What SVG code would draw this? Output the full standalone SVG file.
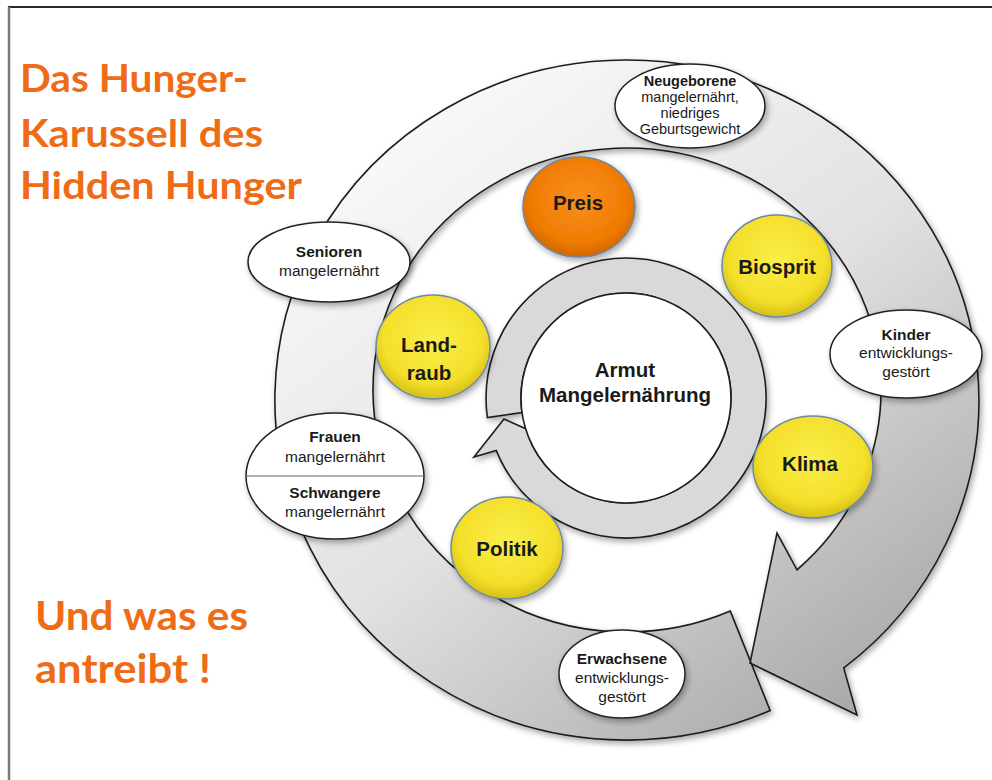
<svg xmlns="http://www.w3.org/2000/svg" width="992" height="780" viewBox="0 0 992 780">
<defs>
<linearGradient id="ringGrad" x1="0.15" y1="0.05" x2="0.85" y2="0.95">
<stop offset="0" stop-color="#fbfbfb"/>
<stop offset="0.5" stop-color="#e2e2e2"/>
<stop offset="1" stop-color="#a8a8a8"/>
</linearGradient>
<radialGradient id="yellowGrad" cx="0.5" cy="0.42" r="0.58">
<stop offset="0" stop-color="#faee4a"/>
<stop offset="0.75" stop-color="#f4df2a"/>
<stop offset="1" stop-color="#d6bf18"/>
</radialGradient>
<radialGradient id="orangeGrad" cx="0.5" cy="0.42" r="0.58">
<stop offset="0" stop-color="#f8901c"/>
<stop offset="0.75" stop-color="#ef7b02"/>
<stop offset="1" stop-color="#d26600"/>
</radialGradient>
<filter id="shadow" x="-10%" y="-10%" width="125%" height="125%">
<feGaussianBlur in="SourceAlpha" stdDeviation="3"/>
<feOffset dx="2" dy="3"/>
<feComponentTransfer><feFuncA type="linear" slope="0.35"/></feComponentTransfer>
<feMerge><feMergeNode/><feMergeNode in="SourceGraphic"/></feMerge>
</filter>
</defs>
<style>
.lbl{font-family:"Liberation Sans",Arial,sans-serif;fill:#1a1a1a;text-anchor:middle}
.b{font-weight:bold}
.t15{font-size:15.5px}
.t14{font-size:14.5px}
.big{font-size:20.5px;font-weight:bold}
.title{font-family:Lato,"Open Sans",sans-serif;font-weight:bold;fill:#f06b16}
.we{fill:#fff;stroke:#222;stroke-width:1.5}
.yc{fill:url(#yellowGrad);stroke:#6f87a6;stroke-width:1.5}
.arrow{stroke:#1e1e1e;stroke-width:1.6;stroke-linejoin:miter}
</style>

<g id="frame">
<line x1="8" y1="7" x2="992" y2="7" stroke="#2a2a2a" stroke-width="2"/>
<line x1="9" y1="7" x2="9" y2="780" stroke="#7a7a7a" stroke-width="2.5"/>
</g>

<g id="title">
<text class="title" x="20" y="92" font-size="38" textLength="228" lengthAdjust="spacingAndGlyphs">Das Hunger-</text>
<text class="title" x="20" y="147" font-size="38" textLength="243" lengthAdjust="spacingAndGlyphs">Karussell des</text>
<text class="title" x="20" y="199" font-size="38" textLength="282" lengthAdjust="spacingAndGlyphs">Hidden Hunger</text>
<text class="title" x="35" y="630" font-size="41" textLength="213" lengthAdjust="spacingAndGlyphs">Und was es</text>
<text class="title" x="35" y="683" font-size="41" textLength="176" lengthAdjust="spacingAndGlyphs">antreibt !</text>
</g>

<g id="connectors">
<path id="outer-cycle" class="arrow" fill="url(#ringGrad)" filter="url(#shadow)"
 d="M770.2,710.6 A352,340 0 1 1 843.7,667.9 L857,715 L750,663 L777,533 L797,569.8 A254,242 0 1 0 730.3,611.1 Z"/>
<path id="inner-cycle" class="arrow" fill="#d9d9d9" filter="url(#shadow)"
 d="M487.4,417.5 A140,140 0 1 1 496.2,450.4 L474,457 L504,419 L553,441 L531.6,444 A105,105 0 1 0 522,412.6 Z"/>
</g>

<g id="center">
<circle cx="626" cy="398" r="105" fill="#fff" stroke="#1e1e1e" stroke-width="1.6"/>
<text class="lbl big" x="625" y="377">Armut</text>
<text class="lbl big" x="625" y="402">Mangelernährung</text>
</g>

<g id="neugeborene">
<ellipse class="we" cx="690" cy="106" rx="75" ry="42" filter="url(#shadow)"/>
<text class="lbl b t14" x="690" y="86">Neugeborene</text>
<text class="lbl t14" x="690" y="102">mangelernährt,</text>
<text class="lbl t14" x="690" y="118">niedriges</text>
<text class="lbl t14" x="690" y="134">Geburtsgewicht</text>
</g>

<g id="senioren">
<ellipse class="we" cx="329" cy="262" rx="81" ry="40" filter="url(#shadow)"/>
<text class="lbl b t15" x="329" y="257">Senioren</text>
<text class="lbl t15" x="329" y="276">mangelernährt</text>
</g>

<g id="kinder">
<ellipse class="we" cx="906" cy="354" rx="76" ry="44" filter="url(#shadow)"/>
<text class="lbl b t15" x="906" y="340">Kinder</text>
<text class="lbl t15" x="906" y="358">entwicklungs-</text>
<text class="lbl t15" x="906" y="377">gestört</text>
</g>

<g id="frauen-schwangere">
<ellipse class="we" cx="335" cy="476" rx="89" ry="63" filter="url(#shadow)"/>
<line x1="247" y1="476" x2="423" y2="476" stroke="#b0b0b0" stroke-width="2"/>
<text class="lbl b t15" x="335" y="442">Frauen</text>
<text class="lbl t15" x="335" y="462">mangelernährt</text>
<text class="lbl b t15" x="335" y="498">Schwangere</text>
<text class="lbl t15" x="335" y="517">mangelernährt</text>
</g>

<g id="erwachsene">
<ellipse class="we" cx="622" cy="674" rx="63" ry="44" filter="url(#shadow)"/>
<text class="lbl b t15" x="622" y="664">Erwachsene</text>
<text class="lbl t15" x="622" y="683">entwicklungs-</text>
<text class="lbl t15" x="622" y="702">gestört</text>
</g>

<g id="preis">
<ellipse cx="579" cy="207" rx="56" ry="50" fill="url(#orangeGrad)" stroke="#6f87a6" stroke-width="1.5" filter="url(#shadow)"/>
<text class="lbl big" x="578" y="210">Preis</text>
</g>

<g id="biosprit">
<ellipse class="yc" cx="777" cy="266" rx="55" ry="51" filter="url(#shadow)"/>
<text class="lbl big" x="777" y="274">Biosprit</text>
</g>

<g id="landraub">
<ellipse class="yc" cx="433" cy="347" rx="57" ry="52" filter="url(#shadow)"/>
<text class="lbl big" x="429" y="352">Land-</text>
<text class="lbl big" x="429" y="380">raub</text>
</g>

<g id="klima">
<ellipse class="yc" cx="813" cy="467" rx="60" ry="51" filter="url(#shadow)"/>
<text class="lbl big" x="810" y="471">Klima</text>
</g>

<g id="politik">
<ellipse class="yc" cx="507" cy="548" rx="56" ry="51" filter="url(#shadow)"/>
<text class="lbl big" x="507" y="556">Politik</text>
</g>
</svg>
